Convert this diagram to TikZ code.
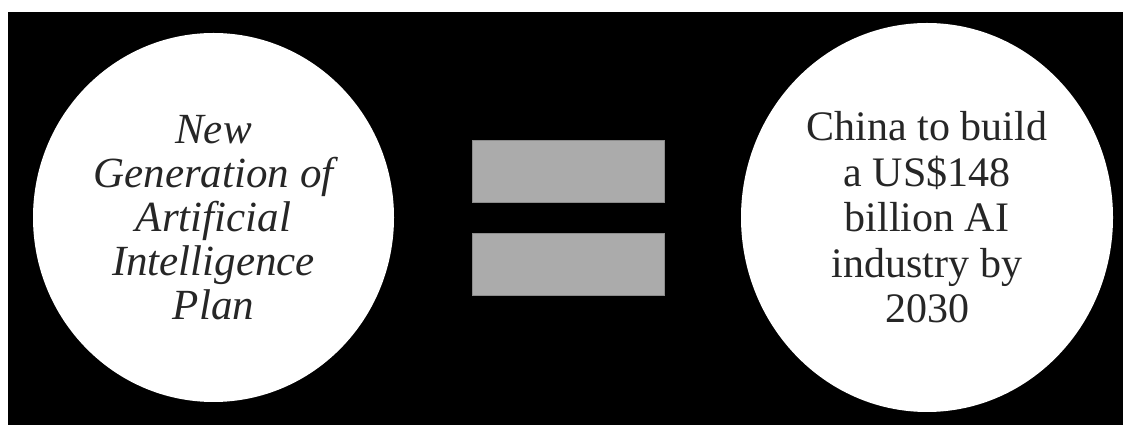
\documentclass[tikz,border=0pt]{standalone}
\usepackage{fontspec}
\setmainfont{Liberation Serif}
\usepackage{tikz}
\usetikzlibrary{positioning,shapes.geometric}

\begin{document}
\begin{tikzpicture}[
    x=1pt, y=1pt,
    disc/.style={draw=none, fill=white, ellipse, inner sep=0pt, align=center, text=black!85},
    bar/.style={draw=black!45, line width=0.8pt, fill=black!33, rectangle, inner sep=0pt, minimum width=192pt, minimum height=62pt}
  ]
    % Cadre
    \useasboundingbox (0,0) rectangle (1123,425);
    \fill[black] (8,0) rectangle (1123,413);

    % Cercle gauche : le plan
    \node[disc, minimum width=361pt, minimum height=369pt, font=\fontsize{43}{44}\selectfont\itshape] (plan) at (213.5,207.5)
      {New\\Generation of\\Artificial\\Intelligence\\Plan};

    % Signe egal
    \node[bar] (bartop) at (568,254) {};
    \node[bar, below=31pt of bartop] (barbot) {};

    % Cercle droit : l'objectif
    \node[disc, minimum width=372pt, minimum height=389pt, font=\fontsize{42}{45.5}\selectfont] (goal) at (927,207.5)
      {China to build\\a US\$148\\billion AI\\industry by\\2030};

  \end{tikzpicture}
\end{document}
